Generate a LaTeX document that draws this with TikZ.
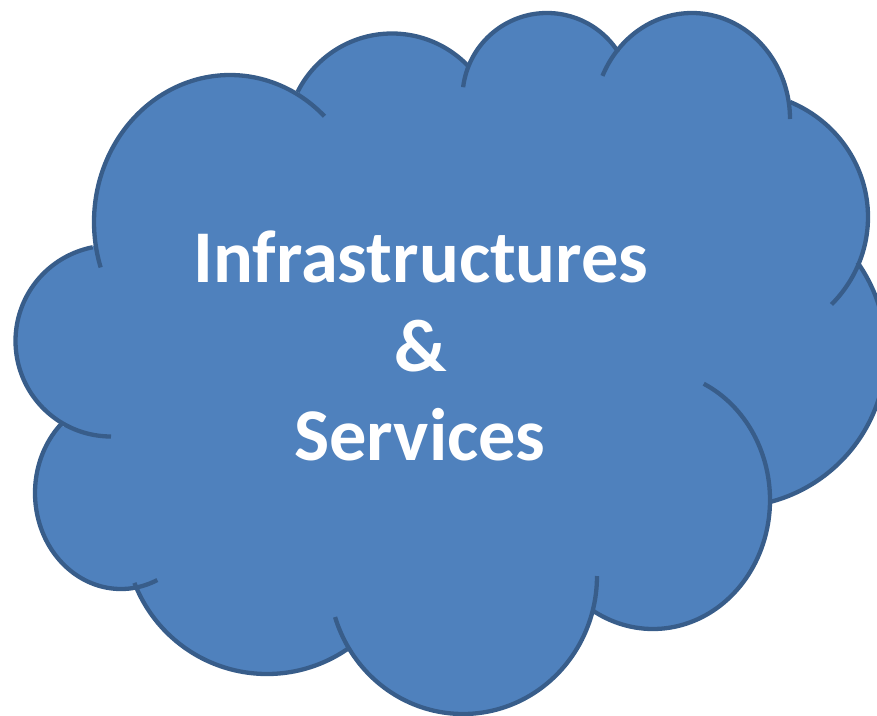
\documentclass[tikz,border=0pt]{standalone}
\usepackage{fontspec}
\setmainfont{Carlito}
\definecolor{cloudblue}{HTML}{4F81BD}
\definecolor{cloudedge}{HTML}{385D8A}
\tikzset{
  lobefill/.style={fill=cloudblue,draw=none},
  lobeline/.style={draw=cloudedge,line width=4.3pt,line cap=butt,line join=round},
  cloudtext/.style={text=white,font=\fontsize{74.4}{75}\selectfont\bfseries,anchor=base,inner sep=0pt}
}
% centre x, centre y, x radius, y radius, start and end parameter (image coordinates, y down)
\newcommand\fillobe[6]{\path[lobefill] (#1,#2) -- plot[domain=#5:#6,samples=90,smooth] ({#1+#3*cos(\x)},{#2+#4*sin(\x)}) -- cycle;}
\newcommand\drawlobe[6]{\path[lobeline] plot[domain=#5:#6,samples=90,smooth] ({#1+#3*cos(\x)},{#2+#4*sin(\x)});}
\newcommand\alllobes[1]{%
  #1{111}{341}{95.5}{95.5}{90}{259}%
  #1{230}{222}{136}{147}{162}{314}%
  #1{392}{139}{105.5}{105.5}{206.5}{316}%
  #1{547}{97.5}{84.5}{84.5}{187}{327.5}%
  #1{692}{119}{98}{106}{204}{360}%
  #1{740}{217}{128}{125}{293}{404.4}%
  #1{731}{352}{155}{155}{324.7}{435.4}%
  #1{653}{500}{117}{129}{295.7}{481.5}%
  #1{463}{576}{134}{138}{0}{162.7}%
  #1{267}{532}{142}{142}{55}{159}%
  #1{121}{493}{86}{96}{65}{226}%
}
\begin{document}
\begin{tikzpicture}[x=1pt,y=-1pt]
  \useasboundingbox (0,0) rectangle (877,715);
  \clip (0,0) rectangle (877,715);
  \path[lobefill] (62,423) -- (93,246) -- (298,93) -- (468,65) -- (618,52) -- (790,102)
    -- (858,262) -- (770,502) -- (593,608) -- (348,647) -- (133,584) -- cycle;
  \alllobes{\fillobe}
  \alllobes{\drawlobe}
  \node[cloudtext] (infra) at (421,282) {Infrastructures};
  \node[cloudtext] (amp) at (421,371) {\&};
  \node[cloudtext] (serv) at (420,460) {Services};
\end{tikzpicture}
\end{document}
